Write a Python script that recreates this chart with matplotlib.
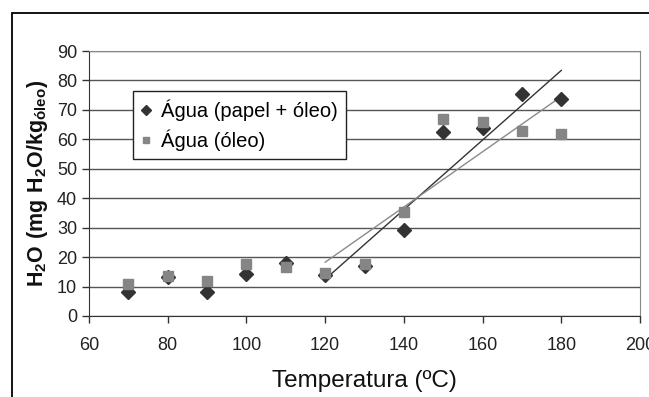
import numpy as np
import matplotlib
matplotlib.use("Agg")
import matplotlib.pyplot as plt
from matplotlib.patches import Rectangle

plt.rcParams["font.family"] = ["Liberation Sans", "DejaVu Sans"]
plt.rcParams["mathtext.fontset"] = "custom"
plt.rcParams["mathtext.rm"] = "Liberation Sans"
plt.rcParams["mathtext.bf"] = "Liberation Sans:bold"

temperatura = [70, 80, 90, 100, 110, 120, 130, 140, 150, 160, 170, 180]
agua_papel_oleo = [8.2, 13.1, 8.0, 14.2, 18.1, 13.9, 17.0, 29.2, 62.4, 64.0, 75.4, 73.7]
agua_oleo = [10.8, 13.5, 11.9, 17.7, 16.5, 14.7, 17.5, 35.2, 66.9, 65.9, 62.8, 61.8]

# trend lines were fitted on the points from 120 ºC upwards
fit_start = 120

W, H = 649, 397
fig = plt.figure(figsize=(W / 100, H / 100), dpi=100)
ax = fig.add_axes([89 / W, 1 - 316 / H, 551 / W, 265 / H])

# outer frame (only top and left visible)
fig.add_artist(Rectangle((12 / W, -0.2), 1.2, 1 - 13 / H + 0.2,
                         transform=fig.transFigure, fill=False,
                         edgecolor="black", lw=1.3))

ax.plot(temperatura, agua_papel_oleo, linestyle="none", marker="D", ms=7,
        color="#333333", label="Água (papel + óleo)", zorder=3)
ax.plot(temperatura, agua_oleo, linestyle="none", marker="s", ms=6.5,
        color="#858585", label="Água (óleo)", zorder=3)

t = np.array(temperatura)
sel = t >= fit_start
xs = np.array([fit_start, t.max()])
for vals, col in [(agua_papel_oleo, "#333333"), (agua_oleo, "#8a8a8a")]:
    k, b = np.polyfit(t[sel], np.array(vals)[sel], 1)
    ax.plot(xs, k * xs + b, color=col, lw=1.0, zorder=2)

ax.set_xlim(60, 200)
ax.set_ylim(0, 90)
ax.set_xticks(range(60, 201, 20))
ax.set_yticks(range(0, 91, 10))
ax.yaxis.grid(True, color="#555555", lw=1.0)
ax.set_axisbelow(True)

for side in ["top", "right"]:
    ax.spines[side].set_color("#888888")
ax.spines["left"].set_color("#333333")
ax.spines["bottom"].set_color("#333333")
ax.tick_params(direction="out", length=5, width=1, color="#333333",
               labelsize=13, labelcolor="#222222", pad=3.5)
ax.tick_params(axis="x", pad=10)

ax.set_xlabel("Temperatura (ºC)", fontsize=17.5, labelpad=12, color="#111111")
ax.set_ylabel(r"$\mathbf{H_2O\ (mg\ H_2O/kg_{óleo})}$", fontsize=15.5,
              labelpad=5, color="#111111")

ax.legend(loc="upper left", bbox_to_anchor=(0.08, 0.849), borderaxespad=0,
          fancybox=False, frameon=True, edgecolor="#222222", framealpha=1,
          fontsize=14.5, handlelength=0.5, handletextpad=0.5, markerscale=0.75,
          borderpad=0.4, labelspacing=0.45)

fig.savefig("out.png", dpi=100)
